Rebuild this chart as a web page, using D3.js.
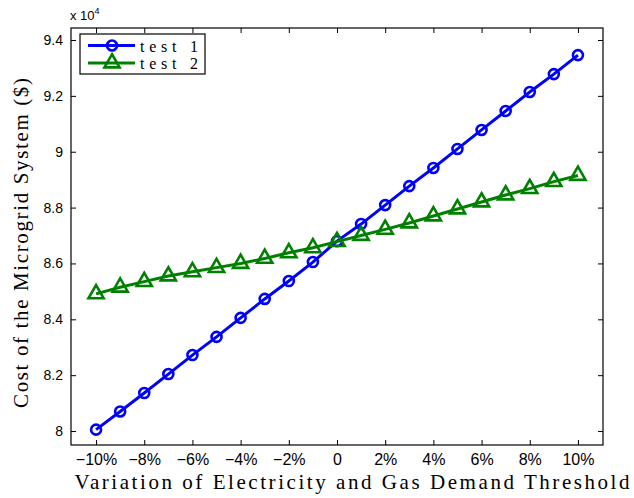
<!DOCTYPE html>
<html>
<head>
<meta charset="utf-8">
<script src="https://cdn.jsdelivr.net/npm/d3@7"></script>
<style>
  body { margin: 0; background: #fff; }
  svg { display: block; }
</style>
</head>
<body>
<svg id="chart" width="634" height="498"></svg>
<script>
// data
const variation = [-10, -9, -8, -7, -6, -5, -4, -3, -2, -1, 0, 1, 2, 3, 4, 5, 6, 7, 8, 9, 10];
const test1 = [80050, 80700, 81360, 82040, 82720, 83370, 84050, 84730, 85370, 86050, 86800,
               87410, 88090, 88770, 89420, 90100, 90780, 91460, 92140, 92780, 93460];
const test2 = [84910, 85150, 85350, 85550, 85700, 85850, 86000, 86180, 86380, 86560, 86780,
               87000, 87220, 87450, 87700, 87950, 88200, 88450, 88680, 88930, 89150];
const xTicks = [-10, -8, -6, -4, -2, 0, 2, 4, 6, 8, 10];
const yTicks = [80000, 82000, 84000, 86000, 88000, 90000, 92000, 94000];

let svg = d3.select("#chart");

let plotLeft = 71, plotRight = 603, plotTop = 28, plotBottom = 445;

let x = d3.scaleLinear().domain([-11.04, 11.04]).range([plotLeft, plotRight]);
let y = d3.scaleLinear().domain([79500, 94430]).range([plotBottom, plotTop]);

// box
svg.append("rect")
    .attr("x", plotLeft).attr("y", plotTop)
    .attr("width", plotRight - plotLeft).attr("height", plotBottom - plotTop)
    .attr("fill", "none").attr("stroke", "#000").attr("stroke-width", 1.2);

// ticks inside the box on all four sides (matlab style)
let fmtX = d => d === 0 ? "0" : (d < 0 ? "\u2212" + Math.abs(d) : d) + "%";

let xAxis = svg.append("g")
    .attr("transform", `translate(0,${plotBottom})`)
    .call(d3.axisBottom(x).tickValues(xTicks).tickSize(-5).tickPadding(9).tickFormat(fmtX))
    .call(g => g.select(".domain").remove());
svg.append("g")
    .attr("transform", `translate(0,${plotTop})`)
    .call(d3.axisTop(x).tickValues(xTicks).tickSize(-5).tickFormat(""))
    .call(g => g.select(".domain").remove());
let yAxis = svg.append("g")
    .attr("transform", `translate(${plotLeft},0)`)
    .call(d3.axisLeft(y).tickValues(yTicks).tickSize(-5).tickPadding(8).tickFormat(d => d / 10000))
    .call(g => g.select(".domain").remove());
svg.append("g")
    .attr("transform", `translate(${plotRight},0)`)
    .call(d3.axisRight(y).tickValues(yTicks).tickSize(-5).tickFormat(""))
    .call(g => g.select(".domain").remove());

svg.selectAll(".tick line").attr("stroke", "#000").attr("stroke-width", 1);
svg.selectAll(".tick text")
    .attr("fill", "#000")
    .style("font-family", "'Liberation Sans', Arial, sans-serif");
xAxis.selectAll(".tick text").style("font-size", "16px");
yAxis.selectAll(".tick text").style("font-size", "14px");

// exponent label
let expo = svg.append("text")
    .attr("x", 70).attr("y", 20)
    .style("font-family", "'Liberation Sans', Arial, sans-serif")
    .style("font-size", "13px");
expo.append("tspan").text("x 10");
expo.append("tspan").attr("dy", -6).style("font-size", "9px").text("4");

// axis labels
svg.append("text")
    .attr("x", 352).attr("y", 489)
    .attr("text-anchor", "middle")
    .attr("textLength", 555)
    .style("font-family", "'Liberation Serif', 'Times New Roman', serif")
    .style("font-size", "21px")
    .text("Variation of Electricity and Gas Demand Threshold");

svg.append("text")
    .attr("transform", "translate(28,243) rotate(-90)")
    .attr("text-anchor", "middle")
    .attr("textLength", 330)
    .style("font-family", "'Liberation Serif', 'Times New Roman', serif")
    .style("font-size", "21px")
    .text("Cost of the Microgrid System ($)");

// series
let series = [
    {name: "test 1", values: test1, color: "#0000ff", marker: "circle"},
    {name: "test 2", values: test2, color: "#008000", marker: "triangle"}
];

let line = d3.line()
    .x((d, i) => x(variation[i]))
    .y(d => y(d));

function drawMarker(g, type, color) {
    if (type === "circle") {
        g.append("circle").attr("r", 5)
            .attr("fill", "none").attr("stroke", color).attr("stroke-width", 2.6);
    } else {
        g.append("path")
            .attr("d", d3.symbol().type(d3.symbolTriangle).size(100))
            .attr("fill", "none").attr("stroke", color).attr("stroke-width", 2.6)
            .attr("stroke-linejoin", "miter");
    }
}

series.forEach(s => {
    svg.append("path")
        .datum(s.values)
        .attr("fill", "none")
        .attr("stroke", s.color)
        .attr("stroke-width", 3)
        .attr("d", line);

    svg.append("g")
        .selectAll("g")
        .data(s.values)
        .join("g")
        .attr("transform", (d, i) => `translate(${x(variation[i])},${y(d)})`)
        .each(function() { drawMarker(d3.select(this), s.marker, s.color); });
});

// legend
let legend = svg.append("g");
legend.append("rect")
    .attr("x", 80).attr("y", 34).attr("width", 125).attr("height", 40)
    .attr("fill", "#fff").attr("stroke", "#000").attr("stroke-width", 1.2);

series.forEach((s, i) => {
    let ly = 45.5 + i * 17.5;
    legend.append("line")
        .attr("x1", 88).attr("x2", 135).attr("y1", ly).attr("y2", ly)
        .attr("stroke", s.color).attr("stroke-width", 3);
    let m = legend.append("g").attr("transform", `translate(112,${ly})`);
    drawMarker(m, s.marker, s.color);
    legend.append("text")
        .attr("x", 140).attr("y", ly + 6)
        .attr("textLength", 58)
        .style("font-family", "'Liberation Serif', 'Times New Roman', serif")
        .style("font-size", "16px")
        .text(s.name);
});
</script>
</body>
</html>
